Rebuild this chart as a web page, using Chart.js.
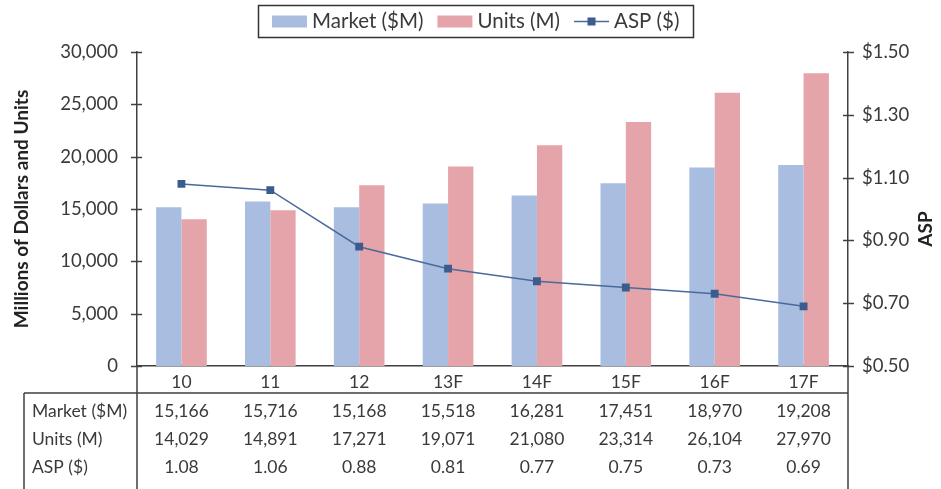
<!DOCTYPE html>
<html>
<head>
<meta charset="utf-8">
<script src="https://cdn.jsdelivr.net/npm/chart.js@4/dist/chart.umd.min.js"></script>
<style>
  html, body { margin: 0; padding: 0; background: #fff; }
  #wrap { width: 941px; height: 489px; }
</style>
</head>
<body>
<div id="wrap"><canvas id="chart" width="941" height="489"></canvas></div>
<script>
// Data
const years = ["10", "11", "12", "13F", "14F", "15F", "16F", "17F"];
const market = [15166, 15716, 15168, 15518, 16281, 17451, 18970, 19208];
const units = [14029, 14891, 17271, 19071, 21080, 23314, 26104, 27970];
const asp = [1.08, 1.06, 0.88, 0.81, 0.77, 0.75, 0.73, 0.69];
const rowLabels = ["Market ($M)", "Units (M)", "ASP ($)"];

const FONT = "Lato, 'Open Sans', sans-serif";
const TXT = "#3a3a3a";
const LINE = "#404040";
const BLUE = "#a8bde0";
const RED = "#e5a4a9";
const ASPC = "#4a6a9c";

const fmt = n => n.toLocaleString("en-US");

// draws legend, axis titles, cross ticks and the data table
const extras = {
  id: "extras",
  afterDraw(chart) {
    const ctx = chart.ctx;
    const x = chart.scales.x;
    const yL = chart.scales.y;
    const yR = chart.scales.y1;
    const area = chart.chartArea;
    ctx.save();
    ctx.strokeStyle = LINE;
    ctx.lineWidth = 1.5;

    // cross ticks
    yL.ticks.forEach((t, i) => {
      const py = Math.round(yL.getPixelForTick(i)) + 0.5;
      ctx.beginPath(); ctx.moveTo(area.left - 6, py); ctx.lineTo(area.left + 5, py); ctx.stroke();
    });
    yR.ticks.forEach((t, i) => {
      const py = Math.round(yR.getPixelForTick(i)) + 0.5;
      ctx.beginPath(); ctx.moveTo(area.right - 5, py); ctx.lineTo(area.right + 6, py); ctx.stroke();
    });

    // table lines
    const tTop = 393;
    const tLeft = 24;
    const H = chart.height;
    ctx.beginPath();
    ctx.moveTo(tLeft, tTop); ctx.lineTo(area.right, tTop);
    ctx.moveTo(tLeft, tTop); ctx.lineTo(tLeft, H);
    ctx.moveTo(area.left, area.bottom); ctx.lineTo(area.left, H);
    ctx.moveTo(area.right, area.bottom); ctx.lineTo(area.right, H);
    ctx.stroke();

    // table text
    ctx.font = "17.5px " + FONT;
    ctx.fillStyle = TXT;
    ctx.textBaseline = "middle";
    const rows = [market.map(fmt), units.map(fmt), asp.map(v => v.toFixed(2))];
    const rowY = [411, 439, 467];
    rows.forEach((vals, r) => {
      ctx.textAlign = "left";
      ctx.fillText(rowLabels[r], 32, rowY[r]);
      ctx.textAlign = "center";
      vals.forEach((v, i) => ctx.fillText(v, x.getPixelForValue(i), rowY[r]));
    });

    // axis titles
    ctx.font = "bold 19px " + FONT;
    ctx.textAlign = "center";
    ctx.fillStyle = "#222";
    ctx.save();
    ctx.translate(22, 209);
    ctx.rotate(-Math.PI / 2);
    ctx.fillText("Millions of Dollars and Units", 0, 0);
    ctx.restore();
    ctx.save();
    ctx.translate(926, 229);
    ctx.rotate(-Math.PI / 2);
    ctx.fillText("ASP", 0, 0);
    ctx.restore();

    // legend
    ctx.font = "20.5px " + FONT;
    ctx.textAlign = "left";
    const items = [
      { label: "Market ($M)", type: "box", color: BLUE },
      { label: "Units (M)", type: "box", color: RED },
      { label: "ASP ($)", type: "line", color: ASPC }
    ];
    const sw = 35, gap = 5, itemGap = 14, padX = 14;
    let total = 0;
    items.forEach((it, i) => {
      total += sw + gap + ctx.measureText(it.label).width + (i < items.length - 1 ? itemGap : 0);
    });
    const boxW = Math.round(total + padX * 2);
    const bx = Math.round(475 - boxW / 2);
    const by = 5, bh = 32;
    ctx.lineWidth = 1.5;
    ctx.strokeStyle = "#333";
    ctx.strokeRect(bx + 0.5, by + 0.5, boxW, bh);
    let cx = bx + padX;
    const cy = by + bh / 2 + 0.5;
    items.forEach(it => {
      if (it.type === "box") {
        ctx.fillStyle = it.color;
        ctx.fillRect(cx, cy - 6, sw, 12);
      } else {
        ctx.strokeStyle = it.color;
        ctx.lineWidth = 1.5;
        ctx.beginPath(); ctx.moveTo(cx, cy); ctx.lineTo(cx + sw, cy); ctx.stroke();
        ctx.fillStyle = "#3d5c8e";
        ctx.fillRect(cx + sw / 2 - 4, cy - 4, 8, 8);
      }
      cx += sw + gap;
      ctx.fillStyle = TXT;
      ctx.fillText(it.label, cx, cy);
      cx += ctx.measureText(it.label).width + itemGap;
    });
    ctx.restore();
  }
};

new Chart(document.getElementById("chart"), {
  data: {
    labels: years,
    datasets: [
      {
        type: "line",
        label: "ASP ($)",
        data: asp,
        yAxisID: "y1",
        borderColor: ASPC,
        borderWidth: 1.5,
        pointStyle: "rect",
        pointRadius: 4.5,
        pointBackgroundColor: "#3d5c8e",
        pointBorderColor: "#3d5c8e",
        tension: 0,
        order: 0
      },
      {
        type: "bar",
        label: "Market ($M)",
        data: market,
        yAxisID: "y",
        backgroundColor: BLUE,
        categoryPercentage: 0.57,
        barPercentage: 1,
        order: 1
      },
      {
        type: "bar",
        label: "Units (M)",
        data: units,
        yAxisID: "y",
        backgroundColor: RED,
        categoryPercentage: 0.57,
        barPercentage: 1,
        order: 1
      }
    ]
  },
  options: {
    responsive: false,
    animation: false,
    layout: { padding: { top: 52, left: 0, right: 0, bottom: 0 } },
    plugins: {
      legend: { display: false },
      tooltip: { enabled: false }
    },
    scales: {
      x: {
        grid: { display: false, drawTicks: false },
        border: { display: true, color: LINE, width: 1.5 },
        ticks: { color: TXT, font: { family: FONT, size: 17.5 }, padding: 6 },
        afterFit(s) { s.height = 123; }
      },
      y: {
        position: "left",
        min: 0,
        max: 30000,
        grid: { display: false, drawTicks: false },
        border: { display: true, color: LINE, width: 1.5 },
        ticks: {
          stepSize: 5000,
          color: TXT,
          font: { family: FONT, size: 18.5 },
          padding: 19,
          callback: v => fmt(v)
        },
        afterFit(s) { s.width = 137; }
      },
      y1: {
        position: "right",
        min: 0.5,
        max: 1.5,
        grid: { display: false, drawTicks: false },
        border: { display: true, color: LINE, width: 1.5 },
        ticks: {
          stepSize: 0.2,
          color: TXT,
          font: { family: FONT, size: 18.5 },
          padding: 14,
          callback: v => "$" + v.toFixed(2)
        },
        afterFit(s) { s.width = 93; }
      }
    }
  },
  plugins: [extras]
});
</script>
</body>
</html>
